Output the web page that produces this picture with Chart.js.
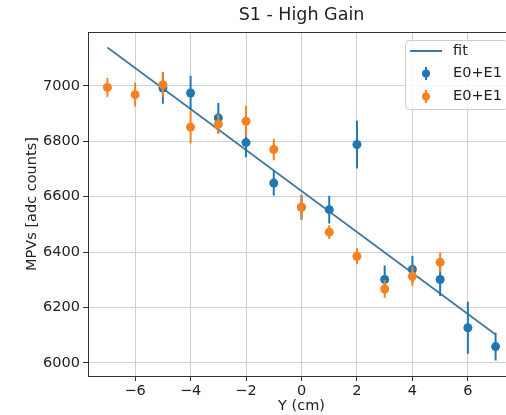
<!DOCTYPE html>
<html>
<head>
<meta charset="utf-8">
<script src="https://cdn.jsdelivr.net/npm/chart.js@4"></script>
<style>
  html, body { margin: 0; padding: 0; background: #fff; overflow: hidden; }
  #wrap { width: 530px; height: 415px; }
</style>
</head>
<body>
<div id="wrap"><canvas id="chart" width="530" height="415"></canvas></div>
<script>
// Values.
const blueX = [-5, -4, -3, -2, -1, 0, 1, 2, 3, 4, 5, 6, 7];
const blueY = [6992, 6974, 6884, 6795, 6649, 6562, 6553, 6788, 6301, 6337, 6301, 6127, 6059];
const blueErr = [57, 62, 54, 53, 45, 45, 50, 86, 51, 49, 60, 94, 50];
const orangeX = [-7, -6, -5, -4, -3, -2, -1, 0, 1, 2, 3, 4, 5];
const orangeY = [6994, 6968, 7004, 6851, 6861, 6872, 6770, 6562, 6472, 6385, 6267, 6313, 6363];
const orangeErr = [34, 43, 45, 59, 35, 56, 39, 43, 25, 29, 32, 35, 35];
const fitX = [-7, 7];
const fitY = [7138, 6103];
const xTicks = [-6, -4, -2, 0, 2, 4, 6];
const yTicks = [6000, 6200, 6400, 6600, 6800, 7000];

const FONT = '"DejaVu Sans", sans-serif';
const BLUE = '#1f77b4';
const ORANGE = '#f5821f';
const FIT = '#45799c';

const pts = (xs, ys) => xs.map((x, i) => ({ x, y: ys[i] }));
const fmt = v => (v < 0 ? '\u2212' + Math.abs(v) : String(v));

// Vertical error bars, drawn just before each dataset's markers.
const errorBars = {
  id: 'errorBars',
  beforeDatasetDraw(chart, args) {
    const ds = chart.data.datasets[args.index];
    if (!ds.errors) return;
    const { x, y } = chart.scales;
    const ctx = chart.ctx;
    ctx.save();
    ctx.strokeStyle = ds.backgroundColor;
    ctx.lineWidth = 2;
    ds.data.forEach((p, i) => {
      const px = x.getPixelForValue(p.x);
      ctx.beginPath();
      ctx.moveTo(px, y.getPixelForValue(p.y - ds.errors[i]));
      ctx.lineTo(px, y.getPixelForValue(p.y + ds.errors[i]));
      ctx.stroke();
    });
    ctx.restore();
  }
};

// Title, top/right spines and the matplotlib-like legend box.
const frame = {
  id: 'frame',
  afterDraw(chart) {
    const { ctx, chartArea: a } = chart;
    ctx.save();
    ctx.strokeStyle = '#333';
    ctx.lineWidth = 1;
    ctx.beginPath();
    ctx.moveTo(a.left, a.top + 0.5);
    ctx.lineTo(a.right - 0.5, a.top + 0.5);
    ctx.lineTo(a.right - 0.5, a.bottom);
    ctx.stroke();

    ctx.fillStyle = '#222';
    ctx.font = '17.5px ' + FONT;
    ctx.textAlign = 'center';
    ctx.textBaseline = 'middle';
    ctx.fillText('S1 - High Gain', (a.left + a.right) / 2, 15);

    // legend
    const bx = 405, by = 40, bw = 103, bh = 69;
    ctx.beginPath();
    ctx.roundRect(bx + 0.5, by + 0.5, bw, bh, 4);
    ctx.fillStyle = 'rgba(255,255,255,0.8)';
    ctx.fill();
    ctx.strokeStyle = '#cccccc';
    ctx.stroke();

    const ds = chart.data.datasets;
    const rows = [51, 73.5, 96.5];
    ctx.font = '14.5px ' + FONT;
    ctx.textAlign = 'left';
    ds.forEach((d, i) => {
      const cy = rows[i];
      if (d.errors) {
        ctx.strokeStyle = d.backgroundColor;
        ctx.lineWidth = 2;
        ctx.beginPath();
        ctx.moveTo(426, cy - 6.5);
        ctx.lineTo(426, cy + 6.5);
        ctx.stroke();
        ctx.fillStyle = d.backgroundColor;
        ctx.beginPath();
        ctx.arc(426, cy, 4, 0, Math.PI * 2);
        ctx.fill();
      } else {
        ctx.strokeStyle = d.borderColor;
        ctx.lineWidth = 2;
        ctx.beginPath();
        ctx.moveTo(410, cy);
        ctx.lineTo(442, cy);
        ctx.stroke();
      }
      ctx.fillStyle = '#222';
      ctx.fillText(d.label, 453, cy);
    });
    ctx.restore();
  }
};

new Chart(document.getElementById('chart'), {
  type: 'scatter',
  data: {
    datasets: [
      { label: 'fit', data: pts(fitX, fitY), showLine: true, borderColor: FIT, borderWidth: 1.8,
        pointRadius: 0, order: 3 },
      { label: 'E0+E1', data: pts(blueX, blueY), errors: blueErr, backgroundColor: BLUE,
        borderWidth: 0, pointRadius: 4.5, order: 2 },
      { label: 'E0+E1', data: pts(orangeX, orangeY), errors: orangeErr, backgroundColor: ORANGE,
        borderWidth: 0, pointRadius: 4.5, order: 1 },
    ]
  },
  options: {
    responsive: false,
    animation: false,
    devicePixelRatio: 1,
    events: [],
    layout: { padding: { left: 0, right: 15, top: 32, bottom: 0 } },
    plugins: { legend: { display: false }, tooltip: { enabled: false } },
    scales: {
      x: {
        type: 'linear', min: -7.7, max: 7.7,
        afterBuildTicks: s => { s.ticks = xTicks.map(v => ({ value: v })); },
        afterFit: s => { s.height = 39; },
        grid: { color: '#d0d0d0', tickColor: '#333', tickLength: 5 },
        border: { color: '#333' },
        ticks: { autoSkip: false, maxRotation: 0, padding: 2, color: '#222',
                 font: { family: FONT, size: 14.5 }, callback: fmt },
        title: { display: true, text: 'Y (cm)', color: '#222', padding: { top: 0, bottom: 0 },
                 font: { family: FONT, size: 14.5 } }
      },
      y: {
        type: 'linear', min: 5953, max: 7194,
        afterBuildTicks: s => { s.ticks = yTicks.map(v => ({ value: v })); },
        afterFit: s => { s.width = 88; },
        grid: { color: '#d0d0d0', tickColor: '#333', tickLength: 5 },
        border: { color: '#333' },
        ticks: { autoSkip: false, padding: 3, color: '#222',
                 font: { family: FONT, size: 14.5 }, callback: fmt },
        title: { display: true, text: 'MPVs [adc counts]', color: '#222', padding: { top: 24, bottom: 0 },
                 font: { family: FONT, size: 14.5 } }
      }
    }
  },
  plugins: [errorBars, frame]
});
</script>
</body>
</html>
